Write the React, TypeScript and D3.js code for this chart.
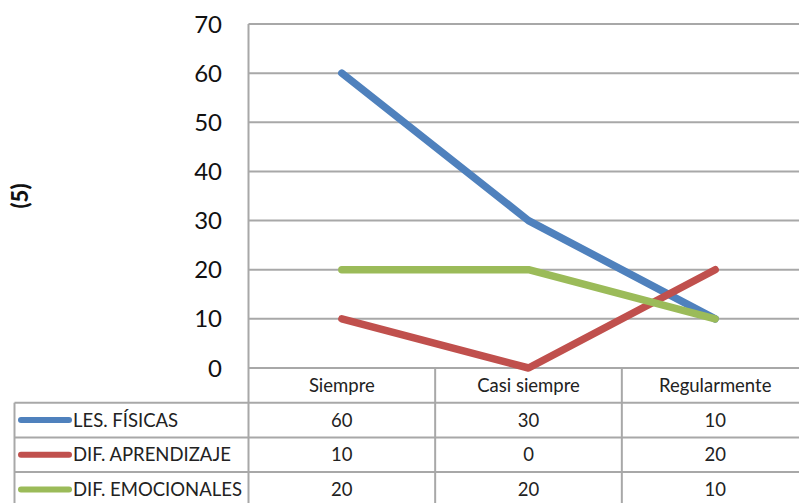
import React from "react";
import * as d3 from "d3";

const categories = ["Siempre", "Casi siempre", "Regularmente"];
const seriesNames = ["LES. FÍSICAS", "DIF. APRENDIZAJE", "DIF. EMOCIONALES"];
const lesFisicas = [60, 30, 10];
const difAprendizaje = [10, 0, 20];
const difEmocionales = [20, 20, 10];
const yTicks = [0, 10, 20, 30, 40, 50, 60, 70];
const colors = ["#4F81BD", "#C0504D", "#9BBB59"];
const yTitle = "(5)";

const W = 799;
const H = 503;
const FONT = "Lato, 'Open Sans', sans-serif";

export default function App() {
  const series = [lesFisicas, difAprendizaje, difEmocionales];
  const plotLeft = 248.5;
  const plotRight = 808.5;
  const plotTop = 24;
  const plotBottom = 368;
  const rowH = 34.7;
  const tableLeft = 14.5;

  const x = d3.scaleBand<string>().domain(categories).range([plotLeft, plotRight]);
  const y = d3.scaleLinear().domain([0, 70]).range([plotBottom, plotTop]);

  const line = d3
    .line<number>()
    .x((_, i) => (x(categories[i]) as number) + x.bandwidth() / 2)
    .y((d) => y(d));

  const grid = "#A8A8A8";
  const headerBottom = plotBottom + rowH;
  const tfs = 18.5;

  return (
    <div style={{ position: "fixed", left: 0, top: 0 }}>
      <svg width={W} height={H} style={{ display: "block", background: "#fff" }}>
        {yTicks.map((t) => (
          <line key={t} x1={plotLeft} x2={plotRight} y1={y(t)} y2={y(t)} stroke={grid} strokeWidth={2} />
        ))}
        <line x1={plotLeft} x2={plotLeft} y1={plotTop} y2={H} stroke={grid} strokeWidth={2} />
        {yTicks.map((t) => (
          <text
            key={"l" + t}
            x={222}
            y={y(t)}
            dy="0.36em"
            textAnchor="end"
            fontFamily={FONT}
            fontSize={24}
            fill="#111"
          >
            {t}
          </text>
        ))}
        <text
          transform={`translate(28,196) rotate(-90)`}
          textAnchor="middle"
          fontFamily={FONT}
          fontWeight="900"
          fontSize={22}
          fill="#111"
        >
          {yTitle}
        </text>

        {[1, 2, 3].map((r) => (
          <line
            key={"h" + r}
            x1={tableLeft}
            x2={plotRight}
            y1={plotBottom + r * rowH}
            y2={plotBottom + r * rowH}
            stroke={grid}
            strokeWidth={2}
          />
        ))}
        <line x1={tableLeft} x2={tableLeft} y1={headerBottom} y2={H} stroke={grid} strokeWidth={2} />
        {categories.slice(1).map((c) => (
          <line
            key={"v" + c}
            x1={x(c) as number}
            x2={x(c) as number}
            y1={plotBottom}
            y2={H}
            stroke={grid}
            strokeWidth={2}
          />
        ))}
        {categories.map((c) => (
          <text
            key={"c" + c}
            x={(x(c) as number) + x.bandwidth() / 2}
            y={plotBottom + rowH / 2}
            dy="0.36em"
            textAnchor="middle"
            fontFamily={FONT}
            fontSize={tfs}
            fill="#222"
          >
            {c}
          </text>
        ))}
        {series.map((s, si) => {
          const cy = headerBottom + si * rowH + rowH / 2;
          return (
            <g key={"row" + si}>
              <line x1={21} x2={69} y1={cy} y2={cy} stroke={colors[si]} strokeWidth={6} strokeLinecap="round" />
              <text x={73} y={cy} dy="0.36em" fontFamily={FONT} fontSize={tfs} fill="#222">
                {seriesNames[si]}
              </text>
              {s.map((v, i) => (
                <text
                  key={i}
                  x={(x(categories[i]) as number) + x.bandwidth() / 2}
                  y={cy}
                  dy="0.36em"
                  textAnchor="middle"
                  fontFamily={FONT}
                  fontSize={tfs}
                  fill="#222"
                >
                  {v}
                </text>
              ))}
            </g>
          );
        })}

        {series.map((s, si) => (
          <path
            key={"p" + si}
            d={line(s) as string}
            fill="none"
            stroke={colors[si]}
            strokeWidth={7.5}
            strokeLinecap="round"
            strokeLinejoin="round"
          />
        ))}
      </svg>
    </div>
  );
}
